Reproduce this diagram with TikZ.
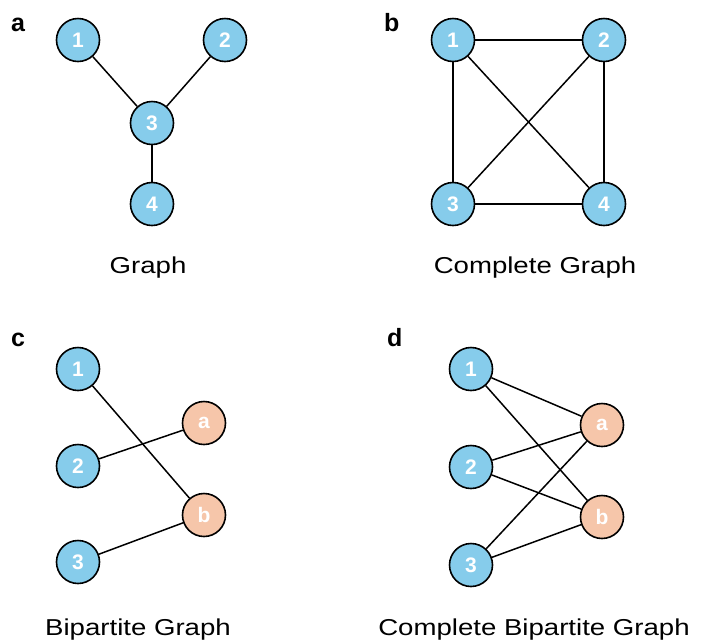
\documentclass[tikz,border=0pt]{standalone}
\usepackage{fontspec}
\setmainfont{Liberation Sans}
\newfontfamily\capfont[FakeStretch=1.2]{Liberation Sans}
\begin{document}
\begin{tikzpicture}[x=1pt,y=-1pt,
  vtx/.style={circle,draw=black,line width=1.6pt,minimum size=43pt,inner sep=0pt,
    text=white,font=\fontsize{21}{21}\selectfont\bfseries},
  bluev/.style={vtx,fill=skyblue},
  peachv/.style={vtx,fill=peach},
  edge/.style={draw=black,line width=1.5pt},
  panel/.style={anchor=base west,inner sep=0pt,font=\fontsize{25}{25}\selectfont\bfseries},
  caption/.style={anchor=base,inner sep=0pt,font=\capfont\fontsize{23}{23}\selectfont}]
\definecolor{skyblue}{RGB}{134,204,235}
\definecolor{peach}{RGB}{246,198,170}
\useasboundingbox (0,0) rectangle (706,641);

% (a) a plain graph
\node[panel] (la) at (11,31) {a};
\node[bluev] (a1) at (78,40) {1};
\node[bluev] (a2) at (225,40) {2};
\node[bluev] (a3) at (152,123) {3};
\node[bluev] (a4) at (152,204) {4};
\draw[edge] (a1) -- (a3);
\draw[edge] (a2) -- (a3);
\draw[edge] (a3) -- (a4);
\node[caption] (ca) at (148,273) {Graph};

% (b) complete graph on four vertices
\node[panel] (lb) at (384,31) {b};
\node[bluev] (b1) at (453,40) {1};
\node[bluev] (b2) at (604,40) {2};
\node[bluev] (b3) at (453,204) {3};
\node[bluev] (b4) at (604,204) {4};
\draw[edge] (b1) -- (b2);
\draw[edge] (b1) -- (b3);
\draw[edge] (b2) -- (b4);
\draw[edge] (b3) -- (b4);
\draw[edge] (b1) -- (b4);
\draw[edge] (b2) -- (b3);
\node[caption] (cb) at (535,273) {Complete Graph};

% (c) bipartite graph
\node[panel] (lc) at (11,346) {c};
\node[bluev] (c1) at (78,369) {1};
\node[bluev] (c2) at (78,466) {2};
\node[bluev] (c3) at (78,562) {3};
\node[peachv] (ca1) at (204,423) {a};
\node[peachv] (cb1) at (204,515) {b};
\draw[edge] (c1) -- (cb1);
\draw[edge] (c2) -- (ca1);
\draw[edge] (c3) -- (cb1);
\node[caption] (cc) at (138,635) {Bipartite Graph};

% (d) complete bipartite graph
\node[panel] (ld) at (387,346) {d};
\node[bluev] (d1) at (471,369) {1};
\node[bluev] (d2) at (471,467) {2};
\node[bluev] (d3) at (471,565) {3};
\node[peachv] (da) at (602,425) {a};
\node[peachv] (db) at (602,517) {b};
\foreach \u in {d1,d2,d3}{
  \draw[edge] (\u) -- (da);
  \draw[edge] (\u) -- (db);
}
\node[caption] (cd) at (534,635) {Complete Bipartite Graph};
\end{tikzpicture}
\end{document}
